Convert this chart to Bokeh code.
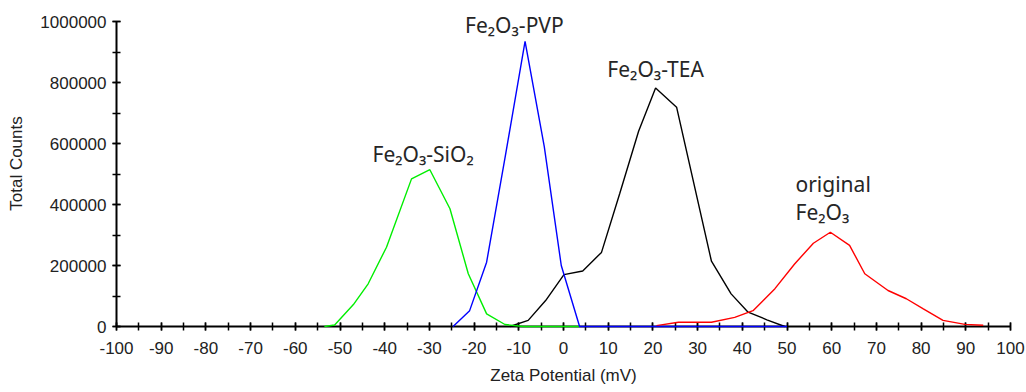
from bokeh.plotting import figure
from bokeh.models import Label, SingleIntervalTicker, NumeralTickFormatter, Range1d
from bokeh.embed import file_html
from bokeh.resources import INLINE

# ---- data ----
sio2_x = [-53.5, -51.2, -47.0, -43.7, -39.6, -34.0, -29.9, -25.4, -21.3, -17.2, -13.1, -9.0, -5.0, -1.0, 3.6]
sio2_y = [0, 5000, 72000, 140000, 260000, 484000, 514000, 386000, 173000, 41500, 6500, 0, 0, 0, 0]

pvp_x = [-24.7, -21.0, -17.2, -13.0, -8.6, -4.3, -0.5, 3.6, 50.0]
pvp_y = [0, 52000, 211000, 560000, 935000, 590000, 200000, 0, 0]

tea_x = [-12.0, -7.9, -4.0, 0.1, 4.3, 8.5, 12.6, 16.8, 20.6, 25.3, 33.1, 37.5, 41.3, 45.5, 49.5]
tea_y = [0, 20000, 85000, 170000, 182000, 243000, 437000, 640000, 782000, 719000, 214000, 107000, 47000, 22000, 0]

orig_x = [20.8, 25.7, 33.1, 38.3, 42.4, 47.3, 51.7, 55.9, 59.7, 64.0, 67.4, 72.6, 76.7, 80.5, 84.9, 89.8, 93.9]
orig_y = [3000, 14000, 14000, 30000, 52000, 124000, 205000, 273000, 309000, 266000, 173000, 118000, 91000, 58000, 20000, 7000, 4000]

x_label = "Zeta Potential (mV)"
y_label = "Total Counts"
y_axis_max = 1000000

# frame spans the full top of the canvas so the top label is not clipped;
# the y axis itself is bounded to 0..1,000,000
y_end = y_axis_max * 326 / 305

p = figure(width=1026, height=392, output_backend="svg", toolbar_location=None,
           x_range=Range1d(-100, 100), y_range=Range1d(0, y_end),
           min_border_left=116, min_border_right=16, min_border_top=0, min_border_bottom=66)
p.outline_line_color = None
p.xgrid.visible = False
p.ygrid.visible = False
p.background_fill_color = "white"
p.border_fill_color = "white"

for ax in (p.xaxis[0], p.yaxis[0]):
    ax.axis_line_width = 2
    ax.axis_line_color = "black"
    ax.major_tick_in = 4
    ax.major_tick_out = 4
    ax.minor_tick_in = 4
    ax.minor_tick_out = 4
    ax.major_tick_line_width = 1.5
    ax.minor_tick_line_width = 1.5
    ax.major_tick_line_color = "black"
    ax.minor_tick_line_color = "black"
    ax.major_label_text_font = "Liberation Sans"
    ax.major_label_text_font_size = "17px"
    ax.major_label_text_color = "#222222"
    ax.axis_label_text_font = "Liberation Sans"
    ax.axis_label_text_font_size = "17px"
    ax.axis_label_text_font_style = "normal"
    ax.axis_label_text_color = "#222222"

p.xaxis.ticker = SingleIntervalTicker(interval=10, num_minor_ticks=2)
p.yaxis.ticker = SingleIntervalTicker(interval=200000, num_minor_ticks=2)
p.yaxis.bounds = (0, y_axis_max)
p.yaxis.formatter = NumeralTickFormatter(format="0")
p.xaxis.formatter = NumeralTickFormatter(format="0")
p.xaxis.axis_label = x_label
p.yaxis.axis_label = y_label
p.xaxis.major_label_standoff = 11
p.yaxis.major_label_standoff = 6
p.xaxis.axis_label_standoff = 9
p.yaxis.axis_label_standoff = 11

for xs, ys, c in [(tea_x, tea_y, "black"), (orig_x, orig_y, "#ff0000"),
                  (sio2_x, sio2_y, "#00ee00"), (pvp_x, pvp_y, "#0000ff")]:
    r = p.line(xs, ys, line_color=c, line_width=1.4)
    r.level = "overlay"

labels = [
    ("Fe\u2082O\u2083-SiO\u2082", -31.4, 566000, "center"),
    ("Fe\u2082O\u2083-PVP", -11.0, 987000, "center"),
    ("Fe\u2082O\u2083-TEA", 20.6, 845000, "center"),
    ("original", 51.9, 466000, "left"),
    ("Fe\u2082O\u2083", 51.9, 374000, "left"),
]
for t, x, y, al in labels:
    p.add_layout(Label(x=x, y=y, text=t, text_font="Noto Sans", text_font_size="21px",
                       text_color="#262626", text_align=al, text_baseline="alphabetic"))

open("out.html", "w").write(file_html(p, INLINE))
